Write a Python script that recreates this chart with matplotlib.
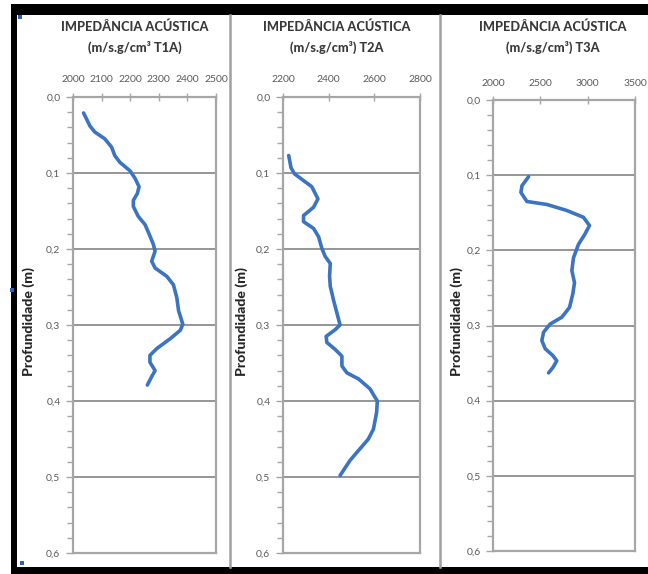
import matplotlib
matplotlib.use("Agg")
import matplotlib.pyplot as plt
from matplotlib.patches import Rectangle
from matplotlib.lines import Line2D
import numpy as np

W, H = 648, 574

# ---------------- data ----------------
titles_line1 = ["IMPEDÂNCIA ACÚSTICA"] * 3
titles_line2 = ["(m/s.g/cm³ T1A)", "(m/s.g/cm³) T2A", "(m/s.g/cm³) T3A"]
y_label = "Profundidade (m)"

depth_t1 = [0.021, 0.038, 0.046, 0.055, 0.066, 0.077, 0.086, 0.097, 0.107, 0.118,
            0.127, 0.136, 0.144, 0.157, 0.168, 0.181, 0.194, 0.203, 0.216, 0.225,
            0.236, 0.247, 0.264, 0.281, 0.299, 0.307, 0.318, 0.331, 0.340, 0.349,
            0.360, 0.368, 0.379]
imp_t1 = [2037, 2059, 2076, 2111, 2135, 2146, 2164, 2199, 2217, 2231,
          2225, 2211, 2211, 2228, 2252, 2267, 2281, 2287, 2275, 2287,
          2328, 2351, 2363, 2369, 2384, 2375, 2340, 2293, 2269, 2269,
          2287, 2275, 2260]

depth_t2 = [0.077, 0.093, 0.101, 0.110, 0.118, 0.134, 0.145, 0.156, 0.164, 0.173,
            0.184, 0.199, 0.210, 0.219, 0.236, 0.249, 0.267, 0.284, 0.300, 0.306,
            0.315, 0.323, 0.332, 0.341, 0.354, 0.363, 0.371, 0.384, 0.400, 0.415,
            0.437, 0.450, 0.465, 0.478, 0.498]
imp_t2 = [2225, 2235, 2250, 2290, 2326, 2353, 2334, 2290, 2290, 2334,
          2356, 2370, 2385, 2407, 2404, 2407, 2421, 2436, 2450, 2429,
          2389, 2392, 2428, 2458, 2458, 2480, 2531, 2581, 2613, 2610,
          2596, 2574, 2531, 2494, 2450]

depth_t3 = [0.102, 0.114, 0.123, 0.135, 0.139, 0.147, 0.156, 0.167, 0.178, 0.192,
            0.210, 0.227, 0.243, 0.258, 0.276, 0.289, 0.298, 0.309, 0.320, 0.331,
            0.340, 0.347, 0.356, 0.363]
imp_t3 = [2376, 2306, 2295, 2358, 2569, 2780, 2955, 3019, 2973, 2903,
          2850, 2833, 2861, 2843, 2808, 2727, 2604, 2534, 2516, 2552,
          2632, 2674, 2632, 2587]

xlims = [(2000, 2500), (2200, 2800), (2000, 3500)]
xticks = [[2000, 2100, 2200, 2300, 2400, 2500],
          [2200, 2400, 2600, 2800],
          [2000, 2500, 3000, 3500]]
yticks = [0.0, 0.1, 0.2, 0.3, 0.4, 0.5, 0.6]
ytick_labels = ["0,0", "0,1", "0,2", "0,3", "0,4", "0,5", "0,6"]

series = [(imp_t1, depth_t1), (imp_t2, depth_t2), (imp_t3, depth_t3)]

# ---------------- layout (pixels) ----------------
axes_px = [(73, 97, 216, 553), (283, 97, 420, 553), (493, 100, 635, 551)]
title_cx = [135, 337, 553]
ylabel_x = [29, 242, 457]

LINE_COLOR = "#3C74C2"
SPINE_COLOR = "#A6A6A6"
GRID_COLOR = "#8E8E8E"
TICK_TEXT = "#5A5A5A"
TITLE_COLOR = "#3A3A3A"

plt.rcParams['font.family'] = ['Lato', 'DejaVu Sans']

fig = plt.figure(figsize=(W / 100, H / 100), dpi=100)
fig.patch.set_facecolor("white")


def fx(x):
    return x / W


def fy(y):
    return 1 - y / H


for i, (l, t, r, b) in enumerate(axes_px):
    ax = fig.add_axes([fx(l), fy(b), (r - l) / W, (b - t) / H])
    x, y = series[i]
    ax.plot(x, y, color=LINE_COLOR, lw=2.6, solid_capstyle="round",
            solid_joinstyle="round", zorder=3)
    ax.set_xlim(*xlims[i])
    ax.set_ylim(0.6, 0.0)
    ax.xaxis.tick_top()
    ax.set_xticks(xticks[i])
    ax.set_xticklabels([str(v) for v in xticks[i]])
    ax.set_yticks(yticks)
    ax.set_yticklabels(ytick_labels)
    ax.set_yticks(np.arange(0, 0.6001, 0.02), minor=True)
    ax.tick_params(axis="x", which="major", direction="inout", length=6,
                   width=1.0, color=SPINE_COLOR, labelsize=7.5,
                   labelcolor=TICK_TEXT, pad=6)
    ax.tick_params(axis="y", which="major", direction="out", length=5,
                   width=1.0, color=SPINE_COLOR, labelsize=7.5,
                   labelcolor=TICK_TEXT, pad=4)
    ax.tick_params(axis="y", which="minor", direction="out", length=4,
                   width=1.0, color=SPINE_COLOR)
    for s in ax.spines.values():
        s.set_color(SPINE_COLOR)
        s.set_linewidth(1.6)
    ax.grid(axis="y", which="major", color=GRID_COLOR, lw=1.3)
    ax.set_axisbelow(True)

    fig.text(fx(title_cx[i]), fy(27), titles_line1[i], ha="center", va="center",
             fontsize=9.2, fontweight="black", color=TITLE_COLOR)
    fig.text(fx(title_cx[i]), fy(47), titles_line2[i], ha="center", va="center",
             fontsize=9.2, fontweight="black", color=TITLE_COLOR)
    fig.text(fx(ylabel_x[i]), fy(322), y_label, ha="center", va="center",
             rotation=90, fontsize=10.2, fontweight="black", color="#262626")

# separators between panels
for sx in (230, 440):
    fig.add_artist(Line2D([fx(sx), fx(sx)], [fy(15), fy(567)],
                          color="#A0A0A0", lw=1.8, transform=fig.transFigure))

# thick black frame (top, left, bottom)
fig.add_artist(Rectangle((fx(11), fy(15)), fx(648 - 11), 11 / H,
                         transform=fig.transFigure, color="black", lw=0))
fig.add_artist(Rectangle((fx(11), fy(574)), fx(6), fy(4) - fy(574),
                         transform=fig.transFigure, color="black", lw=0))
fig.add_artist(Rectangle((fx(11), fy(574)), fx(648 - 11), 7 / H,
                         transform=fig.transFigure, color="black", lw=0))

# small blue selection handles
for (hx, hy) in [(20, 17), (12, 290), (22, 563)]:
    fig.add_artist(Rectangle((fx(hx - 2), fy(hy + 2)), 4 / W, 4 / H,
                             transform=fig.transFigure, color="#2F5FAF", lw=0))

fig.savefig("out.png", dpi=100)
